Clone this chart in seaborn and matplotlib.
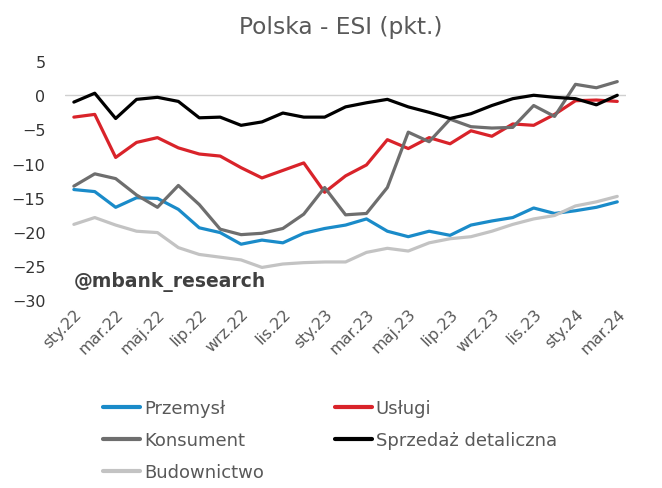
import pandas as pd
import numpy as np
import seaborn as sns
import matplotlib as mpl
import matplotlib.pyplot as plt

sns.set_theme(style="white")
plt.rcParams['font.family'] = ['DejaVu Sans']

# dane: miesiące sty.22 - mar.24
miesiace = ["sty.22", "lut.22", "mar.22", "kwi.22", "maj.22", "cze.22", "lip.22", "sie.22", "wrz.22",
            "paź.22", "lis.22", "gru.22", "sty.23", "lut.23", "mar.23", "kwi.23", "maj.23", "cze.23",
            "lip.23", "sie.23", "wrz.23", "paź.23", "lis.23", "gru.23", "sty.24", "lut.24", "mar.24"]

przemysl = [-13.8, -14.1, -16.4, -15.0, -15.1, -16.7, -19.4, -20.1, -21.8, -21.2, -21.6, -20.2, -19.5,
            -19.0, -18.1, -19.9, -20.7, -19.9, -20.5, -19.0, -18.4, -17.9, -16.5, -17.3, -16.9, -16.4, -15.6]
uslugi = [-3.2, -2.8, -9.1, -6.9, -6.2, -7.7, -8.6, -8.9, -10.6, -12.1, -11.0, -9.9, -14.2,
          -11.8, -10.2, -6.5, -7.8, -6.2, -7.1, -5.2, -6.0, -4.2, -4.4, -2.8, -0.8, -0.7, -0.9]
konsument = [-13.3, -11.5, -12.2, -14.6, -16.4, -13.2, -16.0, -19.6, -20.4, -20.2, -19.5, -17.4, -13.5,
             -17.5, -17.3, -13.5, -5.4, -6.8, -3.5, -4.6, -4.8, -4.7, -1.5, -3.1, 1.6, 1.1, 2.0]
sprzedaz = [-1.0, 0.3, -3.4, -0.6, -0.3, -0.9, -3.3, -3.2, -4.4, -3.9, -2.6, -3.2, -3.2,
            -1.7, -1.1, -0.6, -1.7, -2.5, -3.4, -2.7, -1.5, -0.5, 0.0, -0.3, -0.5, -1.4, 0.0]
budownictwo = [-18.9, -17.9, -19.0, -19.9, -20.1, -22.3, -23.3, -23.7, -24.1, -25.2, -24.7, -24.5, -24.4,
               -24.4, -23.0, -22.4, -22.8, -21.6, -21.0, -20.7, -19.9, -18.9, -18.1, -17.6, -16.2, -15.6, -14.8]

serie = {"Przemysł": przemysl, "Usługi": uslugi, "Konsument": konsument,
         "Sprzedaż detaliczna": sprzedaz, "Budownictwo": budownictwo}
kolory = {"Przemysł": "#1a8bc9", "Usługi": "#d9232a", "Konsument": "#6e6e6e",
          "Sprzedaż detaliczna": "#000000", "Budownictwo": "#c3c3c3"}

df = pd.DataFrame(serie)
df["x"] = np.arange(len(miesiace))
dl = df.melt(id_vars="x", var_name="seria", value_name="wartosc")

fig = plt.figure(figsize=(6.62, 4.89), dpi=100)
ax = fig.add_axes([0.098, 0.384, 0.848, 0.489])

ax.axhline(0, color="#d0d0d0", lw=1, zorder=0)
sns.lineplot(data=dl, x="x", y="wartosc", hue="seria", palette=kolory, linewidth=2.3,
             legend=False, ax=ax)

ax.set_xlim(-0.43, len(miesiace) - 1 + 0.43)
ax.set_ylim(-30, 5)
ax.set_yticks(np.arange(-30, 6, 5))
ax.set_xticks(np.arange(0, len(miesiace), 2))
ax.set_xticklabels(miesiace[::2], rotation=45, ha="right", rotation_mode="anchor")
ax.tick_params(axis="x", labelsize=11.5, labelcolor="#595959", pad=4, length=0)
ax.tick_params(axis="y", labelsize=11.5, labelcolor="#333333", pad=14, length=0)
ax.set_xlabel("")
ax.set_ylabel("")
for s in ax.spines.values():
    s.set_visible(False)

fig.text(0.515, 0.943, "Polska - ESI (pkt.)", ha="center", va="center", fontsize=16.8, color="#595959")
ax.text(0.0, -27.2, "@mbank_research", fontsize=13.5, fontweight="bold", color="#404040",
        ha="left", va="center")

# legenda - kolejność kolumnami
kolej = ["Przemysł", "Konsument", "Budownictwo", "Usługi", "Sprzedaż detaliczna"]
uchwyty = [mpl.lines.Line2D([], [], color=kolory[k], lw=3) for k in kolej]
fig.legend(uchwyty, kolej, ncol=2, loc="upper left", bbox_to_anchor=(0.145, 0.196),
           frameon=False, fontsize=13, handlelength=2.05, handletextpad=0.2,
           columnspacing=3.95, labelspacing=0.76, labelcolor="#595959", borderaxespad=0)

fig.savefig("out.png", dpi=100)
